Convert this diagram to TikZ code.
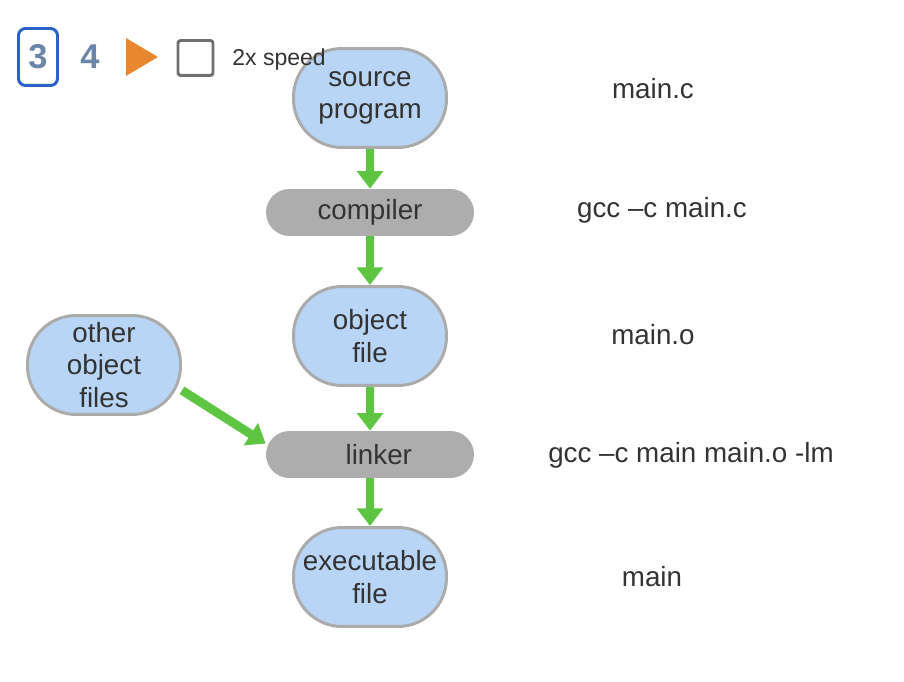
\documentclass[tikz,border=0pt]{standalone}
\usepackage{fontspec}
\setmainfont{Liberation Sans}
\usetikzlibrary{arrows.meta,positioning,calc}
\definecolor{ink}{HTML}{333333}
\definecolor{nodefill}{HTML}{B8D5F5}
\definecolor{nodeedge}{HTML}{ABABAB}
\definecolor{toolfill}{HTML}{ADADAD}
\definecolor{flow}{HTML}{5DC542}
\definecolor{stepblue}{HTML}{2B62C8}
\definecolor{stepnum}{HTML}{6A85A8}
\definecolor{play}{HTML}{E8872E}
\definecolor{boxgray}{HTML}{707070}
\tikzset{
  figbase/.style={
    font=\fontsize{15.8}{18.4}\selectfont,
    color=ink,
    line cap=round,
    line join=round,
  },
  filenode/.style={
    draw=nodeedge, fill=nodefill, line width=1.7pt,
    rounded corners=0.97cm,
    minimum width=3.06cm, minimum height=1.98cm,
    inner sep=1pt, align=center, text=ink,
  },
  toolnode/.style={
    fill=toolfill, draw=none,
    rounded corners=0.47cm,
    minimum width=4.16cm, minimum height=0.94cm,
    inner sep=1pt, align=center, text=ink,
  },
  cmd/.style={text=ink, inner sep=1pt},
  arr/.style={-{Triangle[length=10pt,width=14.5pt]}, line width=5pt, draw=flow, line cap=butt},
  stepnum/.style={font=\fontsize{19.6}{22}\bfseries\selectfont, text=stepnum},
}

\begin{document}
\begin{tikzpicture}[figbase, x=0.02cm, y=-0.02cm]
  \useasboundingbox (0,0) rectangle (904,682);

  % build chain
  \node[filenode] (src) at (370,98) {source\\program};
  \node[toolnode] (comp) at (370,212.5) {compiler};
  \node[filenode] (obj) at (370,336) {object\\file};
  \node[filenode] (oth) at (104,365) {other\\object\\files};
  \node[toolnode] (lnk) at (370,454.5) {\hspace*{10pt}linker};
  \node[filenode] (exe) at (370,577) {executable\\file};

  \draw[arr] (src.south) -- (comp.north);
  \draw[arr] (comp.south) -- (obj.north);
  \draw[arr] (obj.south) -- (lnk.north);
  \draw[arr] (lnk.south) -- (exe.north);
  \draw[arr] (oth.-18) -- (lnk.174);

  % player controls
  \node[stepnum, draw=stepblue, line width=1.7pt, rounded corners=4pt,
        minimum width=0.78cm, minimum height=1.14cm, inner sep=0pt] (st3) at (38,57) {3};
  \node[stepnum] (st4) at (90,57) {4};
  \fill[play] (126,38) -- (158,57) -- (126,76) -- cycle;
  \node[draw=boxgray, line width=1.7pt, rounded corners=1.5pt,
        minimum size=0.7cm, inner sep=0pt] (chk) at (195.5,58) {};
  \node[font=\fontsize{13.1}{15}\selectfont, text=ink, anchor=west, inner sep=0pt] (spd) at (232,60) {2x speed};

  % commands
  \node[cmd] (c1) at (653,89) {main.c};
  \node[cmd] (c2) at (662,210) {gcc --c main.c};
  \node[cmd] (c3) at (653,335) {main.o};
  \node[cmd] (c4) at (691,455) {gcc --c main main.o -lm};
  \node[cmd] (c5) at (652,577) {main};
\end{tikzpicture}
\end{document}
